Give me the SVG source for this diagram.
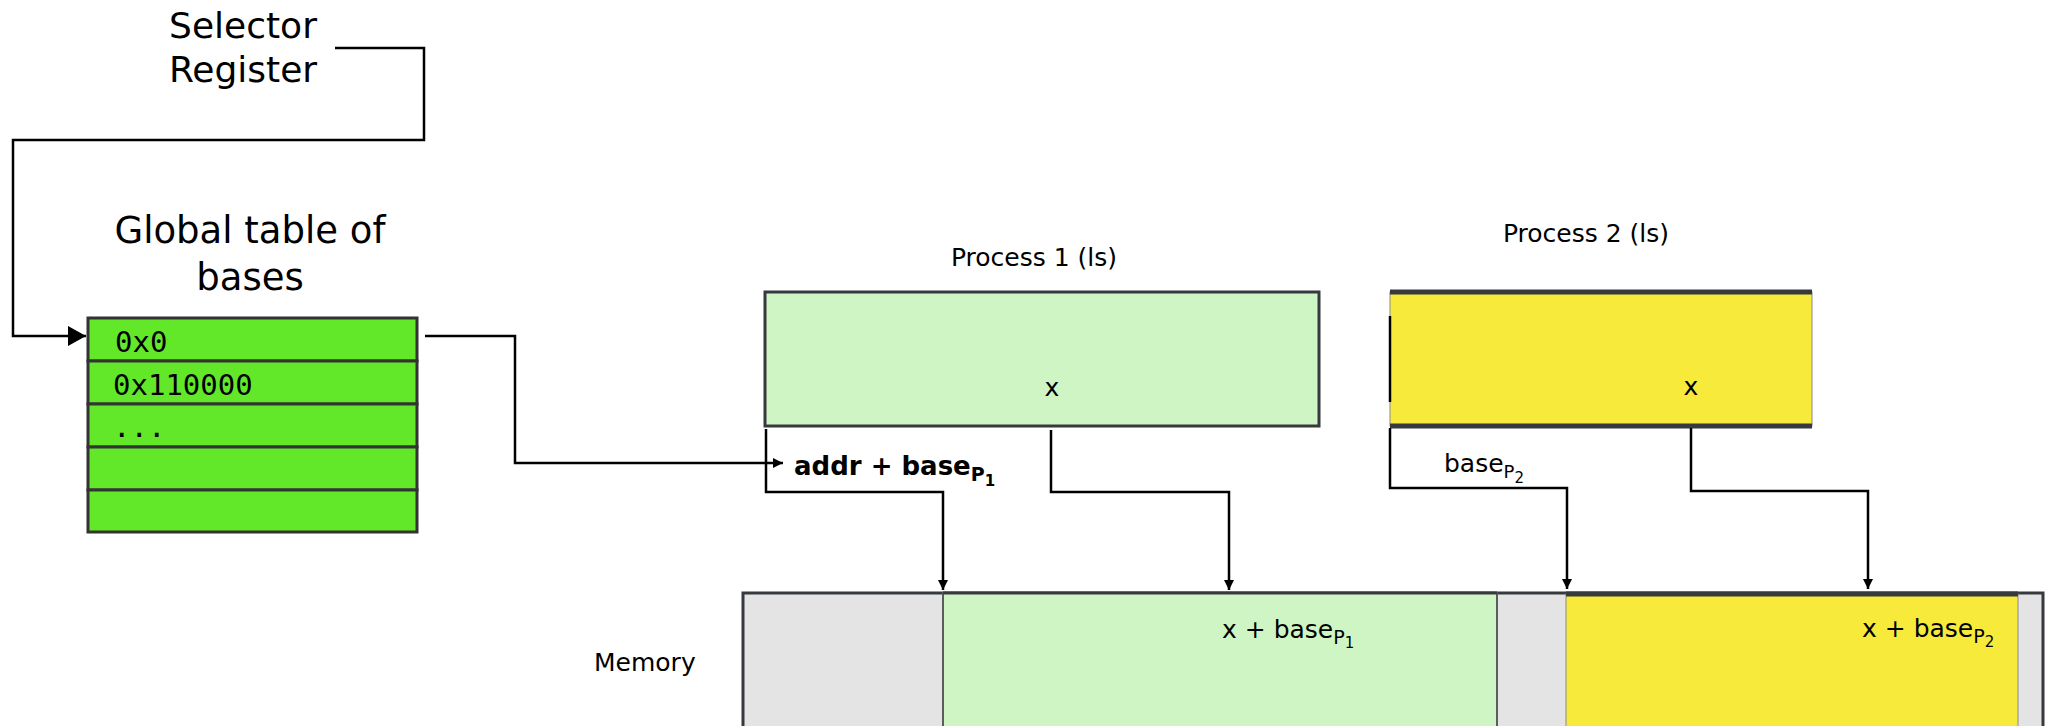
<svg xmlns="http://www.w3.org/2000/svg" width="2050" height="726" viewBox="0 0 2050 726">
<style>
  .t { font-family: "DejaVu Sans", "Liberation Sans", sans-serif; fill: #000; }
  .mono { font-family: "DejaVu Sans Mono", "Liberation Mono", monospace; font-size: 29px; fill: #000; }
  .big { font-size: 36px; }
  .mid { font-size: 25px; }
  .conn { fill: none; stroke: #000; stroke-width: 2.5; }
  .row { fill: #63e829; stroke: #333333; stroke-width: 3; }
</style>
<defs>
  <marker id="arr" markerUnits="userSpaceOnUse" markerWidth="12" markerHeight="12" refX="10" refY="5" orient="auto">
    <path d="M0,0 L10,5 L0,10 Z" fill="#000"/>
  </marker>
  <marker id="bigarr" markerUnits="userSpaceOnUse" markerWidth="20" markerHeight="22" refX="18" refY="10" orient="auto">
    <path d="M0,0 L18,10 L0,20 Z" fill="#000"/>
  </marker>
</defs>
<rect width="2050" height="726" fill="#fff"/>

<g id="selector-register">
  <text class="t big" x="243" y="38" text-anchor="middle">Selector</text>
  <text class="t big" x="243" y="82" text-anchor="middle">Register</text>
</g>

<g id="global-table">
  <text class="t" x="250" y="243" text-anchor="middle" font-size="37">Global table of</text>
  <text class="t" x="250" y="290" text-anchor="middle" font-size="37">bases</text>
  <rect class="row" x="88" y="318" width="329" height="43"/>
  <rect class="row" x="88" y="361" width="329" height="43"/>
  <rect class="row" x="88" y="404" width="329" height="43"/>
  <rect class="row" x="88" y="447" width="329" height="43"/>
  <rect class="row" x="88" y="490" width="329" height="42"/>
  <text class="mono" x="115" y="352">0x0</text>
  <text class="mono" x="113" y="395">0x110000</text>
  <text class="mono" x="113" y="437">...</text>
</g>

<g id="addr-label">
  <text class="t" x="794" y="475" font-size="26" font-weight="bold">addr + base<tspan font-size="19" dy="6">P</tspan><tspan font-size="15" dy="5">1</tspan></text>
</g>

<g id="process1">
  <text class="t mid" x="1034" y="266" text-anchor="middle">Process 1 (ls)</text>
  <rect x="765" y="292" width="554" height="134" fill="#d0f5c5" stroke="#36393d" stroke-width="3"/>
  <text class="t mid" x="1052" y="396" text-anchor="middle">x</text>
</g>

<g id="process2">
  <text class="t mid" x="1586" y="242" text-anchor="middle">Process 2 (ls)</text>
  <rect x="1390" y="292" width="422" height="134" fill="#f7ea3a" stroke="#8a8a8a" stroke-width="1"/>
  <line x1="1390" y1="292" x2="1812" y2="292" stroke="#36393d" stroke-width="5"/>
  <line x1="1390" y1="426" x2="1812" y2="426" stroke="#36393d" stroke-width="5"/>
  <line x1="1390" y1="316" x2="1390" y2="402" stroke="#000" stroke-width="2.5"/>
  <text class="t mid" x="1691" y="395" text-anchor="middle">x</text>
  <text class="t mid" x="1444" y="472">base<tspan font-size="18" dy="6">P</tspan><tspan font-size="15" dy="5">2</tspan></text>
</g>

<g id="memory">
  <text class="t mid" x="594" y="671">Memory</text>
  <rect x="743" y="593" width="1300" height="200" fill="#e4e4e4" stroke="#36393d" stroke-width="3"/>
  <rect x="943" y="593" width="554" height="200" fill="#d0f5c5" stroke="#5a5d60" stroke-width="2"/>
  <line x1="943" y1="593" x2="1497" y2="593" stroke="#36393d" stroke-width="3"/>
  <rect x="1566" y="594" width="452" height="200" fill="#f7ea3a" stroke="#8a8a8a" stroke-width="1"/>
  <line x1="1566" y1="594" x2="2018" y2="594" stroke="#36393d" stroke-width="5"/>
  <text class="t mid" x="1222" y="638">x + base<tspan font-size="19" dy="6">P</tspan><tspan font-size="15" dy="4">1</tspan></text>
  <text class="t mid" x="1862" y="637">x + base<tspan font-size="19" dy="6">P</tspan><tspan font-size="15" dy="4">2</tspan></text>
</g>

<g id="connectors">
  <path class="conn" d="M335,48 H424 V140 H13 V336 H86" marker-end="url(#bigarr)"/>
  <path class="conn" d="M425,336 H515 V463 H783" marker-end="url(#arr)"/>
  <path class="conn" d="M766,429 V492 H943 V590" marker-end="url(#arr)"/>
  <path class="conn" d="M1051,430 V492 H1229 V590" marker-end="url(#arr)"/>
  <path class="conn" d="M1390,428 V488 H1567 V589" marker-end="url(#arr)"/>
  <path class="conn" d="M1691,428 V491 H1868 V589" marker-end="url(#arr)"/>
</g>
</svg>
